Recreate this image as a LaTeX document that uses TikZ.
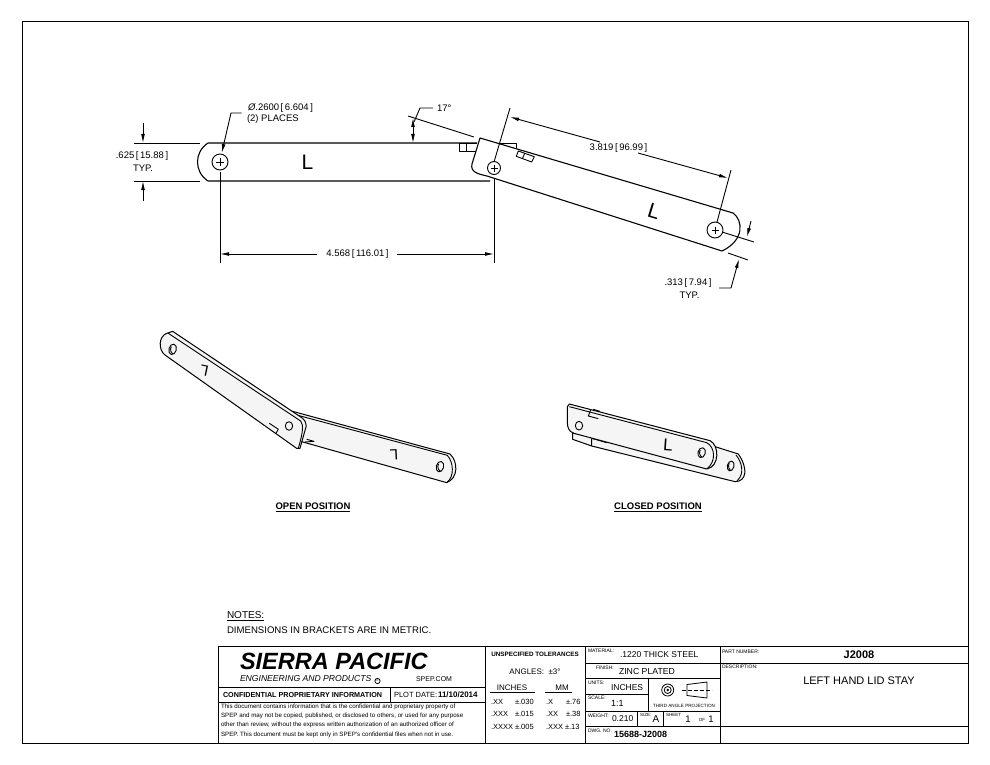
\documentclass[tikz,border=0pt]{standalone}
\usepackage{fontspec}
\setmainfont{Liberation Sans}
\usetikzlibrary{arrows.meta}
\newcommand{\fs}[1]{\fontsize{#1}{#1}\selectfont}
\newcommand{\lb}[5]{\node[inner sep=0pt,outer sep=0pt,anchor=#3] at (#1,#2) {\fs{#4}#5};}
\tikzset{
 ln/.style={line width=0.9pt,black,line join=round},
 thin ln/.style={line width=0.9pt,black,line join=round},
 arr/.style={-{Latex[length=9pt,width=3.8pt]},line width=0.9pt},
 darr/.style={{Latex[length=9pt,width=3.8pt]}-{Latex[length=9pt,width=3.8pt]},line width=0.9pt},
 part/.style={line width=1.1pt,fill=white,line join=round},
 iso/.style={line width=1pt,fill=black!4,line join=round},
 grid/.style={line width=1pt},
}
\begin{document}
\begin{tikzpicture}[x=1pt,y=-1pt]
\useasboundingbox (0,0) rectangle (990,765);
\fill[white] (0,0) rectangle (990,765);
\draw[line width=1pt] (22,22) rectangle (968,743);
% ---------- left bar
\draw[part] (477,143) -- (208,143) .. controls (194,152) and (194,172) .. (208,181) -- (490,181);
\draw[thin ln] (220,162) circle (8);
\draw[thin ln] (216,162) -- (224,162) (220,158) -- (220,166);
\lb{307.5}{162}{center}{21}{L}
% tabs behind
\draw[thin ln] (477,143) -- (459,143) -- (459,151) -- (477,151) (466,143) -- (466,151);
\draw[thin ln] (500,143) -- (516,143) -- (516,148);
% ---------- right bar
\draw[part] (480,138) -- (733,213) .. controls (743,220) and (745,240) .. (722,251) -- (487,176) .. controls (478,174) and (470,172) .. (472,164) -- cycle;
\draw[thin ln] (518.3,151) -- (534.3,156.7) -- (531.7,162) -- (516.3,156.3) -- cycle (524.7,153.3) -- (522.3,159);
\draw[thin ln] (494,168) circle (6.5);
\draw[thin ln] (490.5,168) -- (497.5,168) (494,164.5) -- (494,171.5);
\draw[thin ln] (715,230) circle (8);
\draw[thin ln] (711.5,230) -- (718.5,230) (715,226.5) -- (715,233.5);
\node[rotate=-17,inner sep=0pt] at (654,211) {\fs{21}L};
% ---------- .625 dimension
\draw[thin ln] (134,143) -- (200,143) (134,181) -- (200,181);
\draw[arr] (143,123) -- (143,143);
\draw[arr] (143,201) -- (143,181);
\lb{142}{156.5}{center}{9.5}{.625\,[\,15.88\,]}
\lb{143}{168}{center}{9.5}{TYP.}
% ---------- diameter
\draw[arr] (241.7,113) -- (231,113) -- (221.7,153);
\lb{248}{108.5}{west}{9.5}{\textit{Ø}.2600\,[\,6.604\,]}
\lb{247}{119}{west}{9.5}{(2) PLACES}
% ---------- 4.568
\draw[thin ln] (220,172) -- (220,263) (494,178) -- (494,263);
\draw[arr] (317,254) -- (220,254);
\draw[arr] (397,254) -- (494,254);
\lb{357.5}{254}{center}{9.5}{4.568\,[\,116.01\,]}
% ---------- 17 deg
\draw[thin ln] (408,116) -- (474,137);
\draw[thin ln] (433,108) -- (420,108) -- (414,122);
\draw[darr] (413,143) -- (413,118);
\lb{437}{108}{west}{9.5}{17°}
% ---------- 3.819
\draw[thin ln] (494,162) -- (510,108) (717,222) -- (731,170);
\draw[arr] (600,142) -- (510,117);
\draw[arr] (638,153) -- (728,178);
\lb{618.5}{148}{center}{9.5}{3.819\,[\,96.99\,]}
% ---------- .313
\draw[thin ln] (722,232) -- (754,242) (728,253) -- (748,260);
\draw[arr] (751,221) -- (747,237);
\draw[arr] (719,288) -- (731,288) -- (739,259);
\lb{688}{283}{center}{9.5}{.313\,[\,7.94\,]}
\lb{689.5}{295}{center}{9.5}{TYP.}
% ---------- open position view
\begin{scope}[shift={(150,320)},x=0.3333pt,y=-0.3333pt]
 \draw[iso] (420,272) -- (900,402) .. controls (925,425) and (925,475) .. (890,488) -- (455,365) -- (440,300) -- cycle;
 \draw[ln] (425,281) -- (892,406) .. controls (910,425) and (915,470) .. (890,488);
 \draw[ln] (470,358) -- (492,364) -- (465,366);
 \draw[ln] (870,440) ellipse [x radius=11,y radius=16,rotate=-15];
 \draw[ln] (866,432) .. controls (860,440) and (866,452) .. (872,454);
 \draw[iso] (68,34) -- (458,295) .. controls (470,305) and (470,320) .. (466,328) -- (450,385) -- (440,385) -- (45,105) .. controls (25,90) and (25,50) .. (50,40) -- cycle;
 \draw[ln] (55,40) -- (452,303) .. controls (462,315) and (458,340) .. (445,385);
 \draw[ln] (68,88) ellipse [x radius=11,y radius=16,rotate=-15];
 \draw[ln] (64,80) .. controls (58,88) and (64,100) .. (70,102);
 \draw[ln] (417,318) ellipse [x radius=11,y radius=13];
 \draw[ln] (358,310) -- (385,328) -- (378,340);
 \node[rotate=168,inner sep=0pt] at (163,152) {\fs{15}L};
 \node[rotate=183,inner sep=0pt] at (732,406) {\fs{15}L};
\end{scope}
\lb{313}{507.5}{center}{9.5}{\textbf{\underline{OPEN POSITION}}}
% ---------- closed position view
\begin{scope}[shift={(550,390)},x=0.3333pt,y=-0.3333pt]
 \draw[iso] (68,130) -- (68,148) -- (125,168) -- (555,275) .. controls (590,275) and (595,235) .. (565,192) -- (495,170) -- cycle;
 \draw[ln] (125,145) -- (125,168) (125,145) -- (170,158);
 \draw[ln] (542,228) ellipse [x radius=10,y radius=15,rotate=-15];
 \draw[ln] (538,220) .. controls (532,228) and (538,240) .. (544,242);
 \draw[ln] (558,195) .. controls (575,215) and (585,250) .. (562,272);
 \draw[iso] (58,42) -- (480,152) .. controls (508,165) and (510,230) .. (470,237) -- (72,130) .. controls (55,125) and (52,110) .. (52,95) -- (52,50) -- cycle;
 \draw[ln] (58,50) -- (470,158) .. controls (495,170) and (500,215) .. (470,237);
 \draw[ln] (87,107) ellipse [x radius=11,y radius=13];
 \draw[ln] (455,188) ellipse [x radius=11,y radius=15,rotate=-15];
 \draw[ln] (451,180) .. controls (445,188) and (451,200) .. (457,202);
 \draw[ln] (122,60) -- (115,78) -- (145,86) (130,58) -- (150,64);
 \node[inner sep=0pt,rotate=-4] at (354,165) {\fs{17}L};
\end{scope}
\lb{658}{507.5}{center}{9.5}{\textbf{\underline{CLOSED POSITION}}}
% ---------- notes
\lb{227}{616}{west}{10}{\underline{NOTES:}}
\lb{227}{630.5}{west}{9.6}{DIMENSIONS IN BRACKETS ARE IN METRIC.}
% ---------- title block
\draw[grid] (218,743) -- (218,646) -- (968,646) (218,743) -- (968,743);
\draw[grid] (218,687) -- (485,687) (218,702) -- (485,702) (390,687) -- (390,702);
\draw[grid] (485,646) -- (485,743) (585,646) -- (585,743) (720,646) -- (720,743);
\draw[grid] (585,663) -- (968,663) (585,678) -- (720,678) (585,694) -- (648,694) (585,711) -- (720,711) (585,726) -- (968,726);
\draw[grid] (648,678) -- (648,711) (637,711) -- (637,726) (663,711) -- (663,726);
% sierra
\lb{240}{661}{west}{23.5}{\textbf{\textit{SIERRA PACIFIC}}}
\lb{240}{679}{west}{8.6}{\textit{ENGINEERING AND PRODUCTS}}
\draw[line width=0.8pt] (377.5,681) circle (2.6);
\lb{377.5}{681}{center}{3.5}{c}
\lb{416}{679}{west}{7}{SPEP.COM}
\lb{223}{695}{west}{7.2}{\textbf{CONFIDENTIAL PROPRIETARY INFORMATION}}
\lb{394}{695}{west}{7.5}{PLOT DATE:}
\lb{438}{695}{west}{8}{\textbf{11/10/2014}}
\lb{221}{707}{west}{6.2}{This document contains information that is the confidential and proprietary property of}
\lb{221}{716}{west}{6.2}{SPEP and may not be copied, published, or disclosed to others, or used for any purpose}
\lb{221}{725}{west}{6.2}{other than review, without the express written authorization of an authorized officer of}
\lb{221}{735}{west}{6.2}{SPEP. This document must be kept only in SPEP's confidential files when not in use.}
% tolerances
\lb{535}{654}{center}{6.3}{\textbf{UNSPECIFIED TOLERANCES}}
\lb{535}{671.5}{center}{8}{ANGLES:\ \ ±3°}
\lb{512}{687.5}{center}{8}{INCHES}
\lb{562}{687.5}{center}{8}{MM}
\draw[line width=0.7pt] (490,692) -- (535,692) (545,692) -- (572,692);
\lb{491}{701.5}{west}{7.5}{.XX}  \lb{515}{701.5}{west}{7.5}{±.030} \lb{546}{701.5}{west}{7.5}{.X}   \lb{566}{701.5}{west}{7.5}{±.76}
\lb{491}{714}{west}{7.5}{.XXX}   \lb{515}{714}{west}{7.5}{±.015}   \lb{546}{714}{west}{7.5}{.XX}    \lb{566}{714}{west}{7.5}{±.38}
\lb{491}{727}{west}{7.5}{.XXXX}  \lb{515}{727}{west}{7.5}{±.005}   \lb{546}{727}{west}{7.5}{.XXX}   \lb{565}{727}{west}{7.5}{±.13}
% materials
\lb{588}{651}{west}{5}{MATERIAL:}
\lb{620}{654.5}{west}{8.5}{.1220 THICK STEEL}
\lb{596}{668}{west}{5}{FINISH:}
\lb{619}{671}{west}{8.7}{ZINC PLATED}
\lb{588}{683}{west}{5}{UNITS:}
\lb{611}{687.5}{west}{8.5}{INCHES}
\lb{588}{698}{west}{5}{SCALE:}
\lb{611}{703.5}{west}{9}{1:1}
\lb{588}{716}{west}{5}{WEIGHT:}
\lb{612}{719}{west}{8.5}{0.210}
\lb{640}{715}{west}{4.5}{SIZE:}
\lb{656}{719}{center}{10}{A}
\lb{666}{715}{west}{4.5}{SHEET}
\lb{688}{719}{center}{9.5}{1}
\lb{702}{719.5}{center}{4.5}{OF}
\lb{711}{719}{center}{9.5}{1}
\lb{684}{705.5}{center}{4.6}{THIRD ANGLE PROJECTION}
\lb{588}{731}{west}{5}{DWG. NO.}
\lb{614}{734}{west}{9}{\textbf{15688-J2008}}
\draw[line width=0.8pt] (667.7,690) circle (6) (667.7,690) circle (3.5);
\fill (667.7,690) circle (1.3);
\draw[line width=0.8pt] (687,684.5) -- (707,682) -- (707,698) -- (687,695.5) -- cycle;
\draw[line width=0.7pt,dash pattern=on 4pt off 2pt] (682,690) -- (712,690);
% part
\lb{722}{652}{west}{5}{PART NUMBER:}
\lb{859}{655}{center}{11}{\textbf{J2008}}
\lb{722}{667}{west}{5}{DESCRIPTION:}
\lb{859}{681}{center}{11}{LEFT HAND LID STAY}
\end{tikzpicture}
\end{document}
